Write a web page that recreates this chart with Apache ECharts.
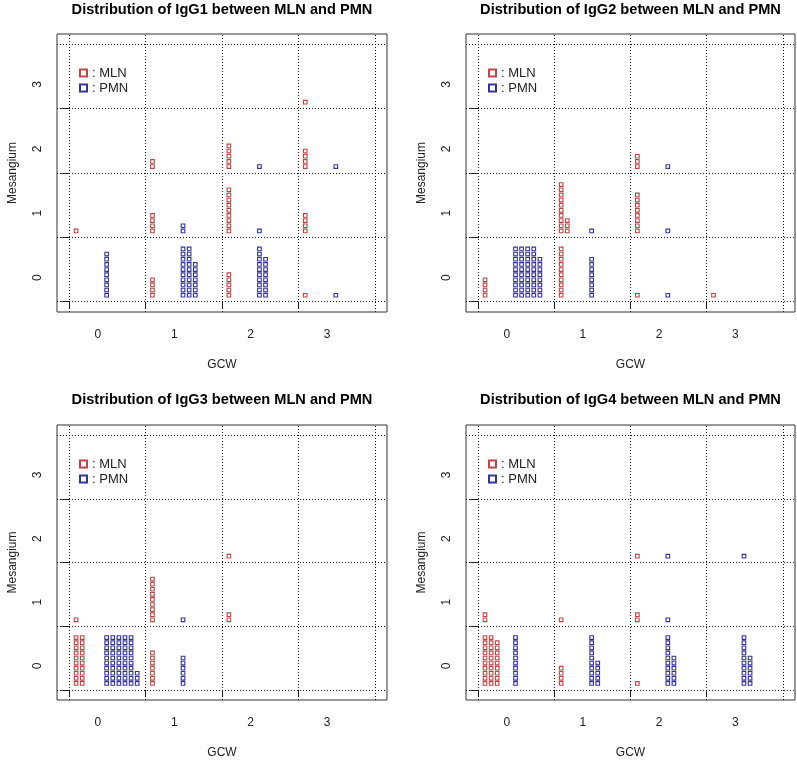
<!DOCTYPE html>
<html>
<head>
<meta charset="utf-8">
<script src="https://cdn.jsdelivr.net/npm/echarts@6/dist/echarts.min.js"></script>
<style>
html,body{margin:0;padding:0;background:#fff;}
#chart{width:797px;height:760px;}
</style>
</head>
<body>
<div id="chart"></div>
<script>
// ---- Data (counts of cases per cell; rows = Mesangium 0..3, columns = GCW 0..3) ----
const gcwLabels = ['0', '1', '2', '3'];
const mesLabels = ['0', '1', '2', '3'];
const groupNames = ['MLN', 'PMN'];
const panelTitles = [
  'Distribution of IgG1 between MLN and PMN',
  'Distribution of IgG2 between MLN and PMN',
  'Distribution of IgG3 between MLN and PMN',
  'Distribution of IgG4 between MLN and PMN'
];
const igg1MLN = [[0, 4, 5, 1], [1, 4, 9, 4], [0, 2, 5, 4], [0, 0, 0, 1]];
const igg1PMN = [[9, 27, 18, 1], [0, 2, 1, 0], [0, 0, 1, 1], [0, 0, 0, 0]];
const igg2MLN = [[4, 10, 1, 1], [0, 13, 8, 0], [0, 0, 3, 0], [0, 0, 0, 0]];
const igg2PMN = [[48, 8, 1, 0], [0, 1, 1, 0], [0, 0, 1, 0], [0, 0, 0, 0]];
const igg3MLN = [[20, 7, 0, 0], [1, 9, 2, 0], [0, 0, 1, 0], [0, 0, 0, 0]];
const igg3PMN = [[53, 6, 0, 0], [0, 1, 0, 0], [0, 0, 0, 0], [0, 0, 0, 0]];
const igg4MLN = [[29, 4, 1, 0], [2, 1, 2, 0], [0, 0, 1, 0], [0, 0, 0, 0]];
const igg4PMN = [[10, 15, 16, 16], [0, 0, 1, 0], [0, 0, 1, 1], [0, 0, 0, 0]];

const panelCounts = [
  [igg1MLN, igg1PMN],
  [igg2MLN, igg2PMN],
  [igg3MLN, igg3PMN],
  [igg4MLN, igg4PMN]
];

// ---- Layout / style ----
const colors = ['#BC4845', '#34349C'];
const boxes = [
  {left: 57, top: 34, width: 330, height: 278},
  {left: 466, top: 34, width: 329, height: 278},
  {left: 57, top: 425, width: 330, height: 277},
  {left: 466, top: 425, width: 329, height: 277}
];
const titleTops = [2, 392];
const FONT = '"Liberation Sans", Arial, sans-serif';
const groupOffset = [0.09, 0.49];   // horizontal start of each group's stack within a cell
const step = 0.08;                  // stacking step (axis units)
const perCol = 10;

function stackPoints(counts, g) {
  const pts = [];
  for (let m = 0; m < counts.length; m++) {
    for (let c = 0; c < counts[m].length; c++) {
      const n = counts[m][c];
      for (let k = 0; k < n; k++) {
        const col = Math.floor(k / perCol);
        const row = k % perCol;
        pts.push([c + groupOffset[g] + col * step, m + 0.1 + row * step]);
      }
    }
  }
  return pts;
}

const labelShift = 0.375;
const gridLineVals = [0, 1, 2, 3, 4];

const option = {
  animation: false,
  backgroundColor: '#fff',
  title: [], grid: [], xAxis: [], yAxis: [], series: [], legend: []
};

boxes.forEach((b, i) => {
  option.grid.push({left: b.left, top: b.top, width: b.width, height: b.height,
    show: true, borderColor: '#333', borderWidth: 1, backgroundColor: 'transparent'});
  option.title.push({
    text: panelTitles[i],
    left: b.left + b.width / 2,
    top: titleTops[Math.floor(i / 2)],
    textAlign: 'center',
    padding: 0,
    textStyle: {fontFamily: FONT, fontWeight: 'bold', fontSize: 14.6, color: '#000'}
  });
  option.xAxis.push({
    gridIndex: i, type: 'value', min: -0.16, max: 4.16,
    name: 'GCW', nameLocation: 'middle', nameGap: 47,
    nameTextStyle: {fontFamily: FONT, fontSize: 12, color: '#222'},
    axisLine: {show: false},
    splitLine: {show: false},
    axisTick: {show: true, length: 7, customValues: [0, 1, 2, 3], lineStyle: {color: '#222', width: 1}},
    axisLabel: {
      customValues: gcwLabels.map((_, k) => k + labelShift),
      formatter: v => gcwLabels[Math.round(v - labelShift)],
      margin: 17, fontFamily: FONT, fontSize: 12, color: '#222'
    }
  });
  option.yAxis.push({
    gridIndex: i, type: 'value', min: -0.16, max: 4.16,
    name: 'Mesangium', nameLocation: 'middle', nameGap: 38,
    nameTextStyle: {fontFamily: FONT, fontSize: 12, color: '#222'},
    axisLine: {show: false},
    splitLine: {show: false},
    axisTick: {show: true, length: 8, customValues: [0, 1, 2, 3], lineStyle: {color: '#222', width: 1}},
    axisLabel: {
      customValues: mesLabels.map((_, k) => k + labelShift),
      formatter: v => mesLabels[Math.round(v - labelShift)],
      rotate: 90, margin: 13, fontFamily: FONT, fontSize: 12, color: '#222'
    }
  });
  groupNames.forEach((name, g) => {
    const s = {
      name: name, type: 'scatter', xAxisIndex: i, yAxisIndex: i,
      symbol: 'rect', symbolSize: 3.6,
      itemStyle: {color: '#fff', borderColor: colors[g], borderWidth: 1.1, opacity: 1},
      emphasis: {disabled: true},
      data: stackPoints(panelCounts[i][g], g),
      z: 3
    };
    if (g === 0) {
      s.markLine = {
        silent: true, symbol: ['none', 'none'], label: {show: false},
        lineStyle: {color: '#111', type: [1, 2], width: 1},
        data: gridLineVals.map(v => ({xAxis: v})).concat(gridLineVals.map(v => ({yAxis: v}))),
        z: 1
      };
    }
    option.series.push(s);
  });
  option.legend.push({
    data: groupNames, orient: 'vertical',
    left: b.left + 22, top: b.top + 32,
    padding: 0, itemGap: 1, itemWidth: 7, itemHeight: 7, icon: 'rect',
    selectedMode: false,
    formatter: n => ': ' + n,
    textStyle: {fontFamily: FONT, fontSize: 13, color: '#222', lineHeight: 14}
  });
});

const chart = echarts.init(document.getElementById('chart'), null, {renderer: 'canvas'});
chart.setOption(option);
</script>
</body>
</html>
